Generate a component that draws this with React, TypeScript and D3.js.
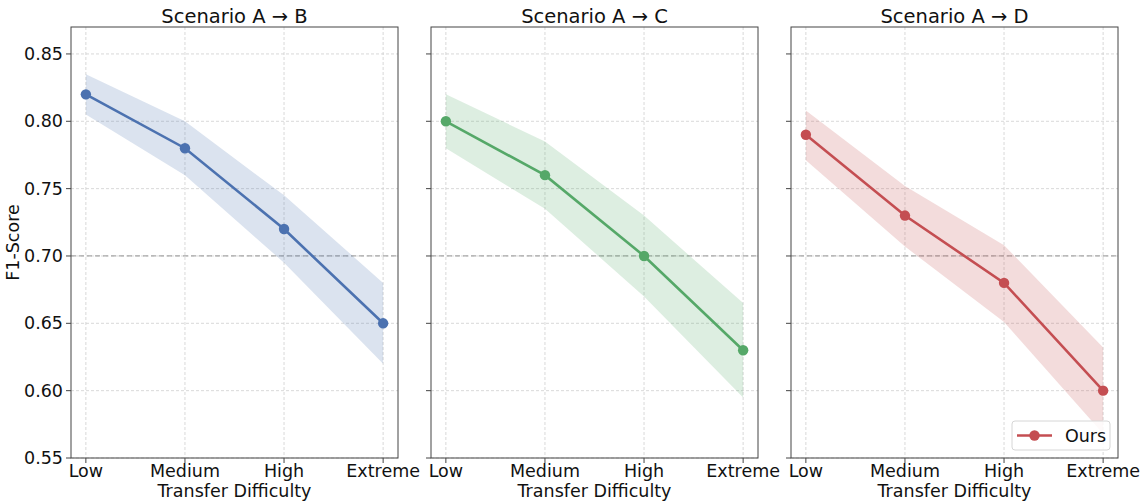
import React from "react";
import * as d3 from "d3";

const categories = ["Low", "Medium", "High", "Extreme"];
const titles = ["Scenario A → B", "Scenario A → C", "Scenario A → D"];
const colors = ["#4C72B0", "#55A868", "#C44E52"];

const meanAB = [0.82, 0.78, 0.72, 0.65];
const upperAB = [0.835, 0.8, 0.745, 0.68];
const lowerAB = [0.805, 0.76, 0.695, 0.62];

const meanAC = [0.8, 0.76, 0.7, 0.63];
const upperAC = [0.82, 0.785, 0.73, 0.665];
const lowerAC = [0.78, 0.735, 0.67, 0.595];

const meanAD = [0.79, 0.73, 0.68, 0.6];
const upperAD = [0.808, 0.752, 0.708, 0.632];
const lowerAD = [0.771, 0.707, 0.651, 0.568];

const yTicks = [0.55, 0.6, 0.65, 0.7, 0.75, 0.8, 0.85];
const refLine = 0.7;
const legendLabel = "Ours";

const panels = [
  { mean: meanAB, upper: upperAB, lower: lowerAB },
  { mean: meanAC, upper: upperAC, lower: lowerAC },
  { mean: meanAD, upper: upperAD, lower: lowerAD },
];

const W = 1143;
const H = 502;
const panelLefts = [71, 431, 791];
const panelW = 327;
const top = 27;
const bottom = 458;
const font = "DejaVu Sans, sans-serif";
const textColor = "#111";

export default function App() {
  const y = d3.scaleLinear().domain([0.55, 0.87]).range([bottom, top]);
  return (
    <div style={{ position: "absolute", left: 0, top: 0 }}>
      <svg width={W} height={H} style={{ display: "block" }} fontFamily={font}>
        <rect x={0} y={0} width={W} height={H} fill="#fff" />
        <text
          transform={`translate(19,${(top + bottom) / 2}) rotate(-90)`}
          textAnchor="middle"
          fontSize={17.5}
          fill={textColor}
        >
          F1-Score
        </text>
        {panels.map((p, pi) => {
          const left = panelLefts[pi];
          // matplotlib-like margins: 5% of data span on each side
          const x = d3
            .scaleLinear()
            .domain([-0.15, categories.length - 1 + 0.15])
            .range([left, left + panelW]);
          const xp = (i: number) => x(i);
          const area = d3
            .area<number>()
            .x((_, i) => xp(i))
            .y0((_, i) => y(p.lower[i]))
            .y1((_, i) => y(p.upper[i]));
          const line = d3
            .line<number>()
            .x((_, i) => xp(i))
            .y((d) => y(d));
          const c = colors[pi];
          return (
            <g key={pi}>
              {yTicks.map((t) => (
                <line
                  key={"gy" + t}
                  x1={left}
                  x2={left + panelW}
                  y1={y(t)}
                  y2={y(t)}
                  stroke="#cfcfcf"
                  strokeWidth={0.8}
                  strokeDasharray="3,2"
                />
              ))}
              {categories.map((cat, i) => (
                <line
                  key={"gx" + cat}
                  x1={xp(i)}
                  x2={xp(i)}
                  y1={top}
                  y2={bottom}
                  stroke="#cfcfcf"
                  strokeWidth={0.8}
                  strokeDasharray="3,2"
                />
              ))}
              <line
                x1={left}
                x2={left + panelW}
                y1={y(refLine)}
                y2={y(refLine)}
                stroke="#a8a8a8"
                strokeWidth={1.2}
                strokeDasharray="5,3"
              />
              <path d={area(p.mean) || ""} fill={c} fillOpacity={0.2} />
              <path d={line(p.mean) || ""} fill="none" stroke={c} strokeWidth={2.6} />
              {p.mean.map((v, i) => (
                <circle key={i} cx={xp(i)} cy={y(v)} r={5.2} fill={c} />
              ))}
              <rect
                x={left}
                y={top}
                width={panelW}
                height={bottom - top}
                fill="none"
                stroke="#444"
                strokeWidth={1}
              />
              {yTicks.map((t) => (
                <g key={"yt" + t}>
                  <line x1={left - 5} x2={left} y1={y(t)} y2={y(t)} stroke="#444" strokeWidth={1} />
                  {pi === 0 && (
                    <text
                      x={left - 8}
                      y={y(t)}
                      dy="0.35em"
                      textAnchor="end"
                      fontSize={17.5}
                      fill={textColor}
                    >
                      {t.toFixed(2)}
                    </text>
                  )}
                </g>
              ))}
              {categories.map((cat, i) => (
                <g key={"xt" + cat}>
                  <line x1={xp(i)} x2={xp(i)} y1={bottom} y2={bottom + 5} stroke="#444" strokeWidth={1} />
                  <text x={xp(i)} y={477} textAnchor="middle" fontSize={17.5} fill={textColor}>
                    {cat}
                  </text>
                </g>
              ))}
              <text
                x={left + panelW / 2}
                y={497}
                textAnchor="middle"
                fontSize={17.5}
                fill={textColor}
              >
                Transfer Difficulty
              </text>
              <text
                x={left + panelW / 2}
                y={22.5}
                textAnchor="middle"
                fontSize={19.5}
                fill={textColor}
              >
                {titles[pi]}
              </text>
              {pi === 2 && (
                <g>
                  <rect
                    x={1012}
                    y={421}
                    width={98}
                    height={29}
                    rx={3}
                    fill="#fff"
                    fillOpacity={0.85}
                    stroke="#d6d6d6"
                    strokeWidth={1}
                  />
                  <line x1={1017} x2={1052} y1={435.5} y2={435.5} stroke={c} strokeWidth={2.6} />
                  <circle cx={1034.5} cy={435.5} r={5.2} fill={c} />
                  <text x={1065} y={441.5} fontSize={17.5} fill={textColor}>
                    {legendLabel}
                  </text>
                </g>
              )}
            </g>
          );
        })}
      </svg>
    </div>
  );
}
